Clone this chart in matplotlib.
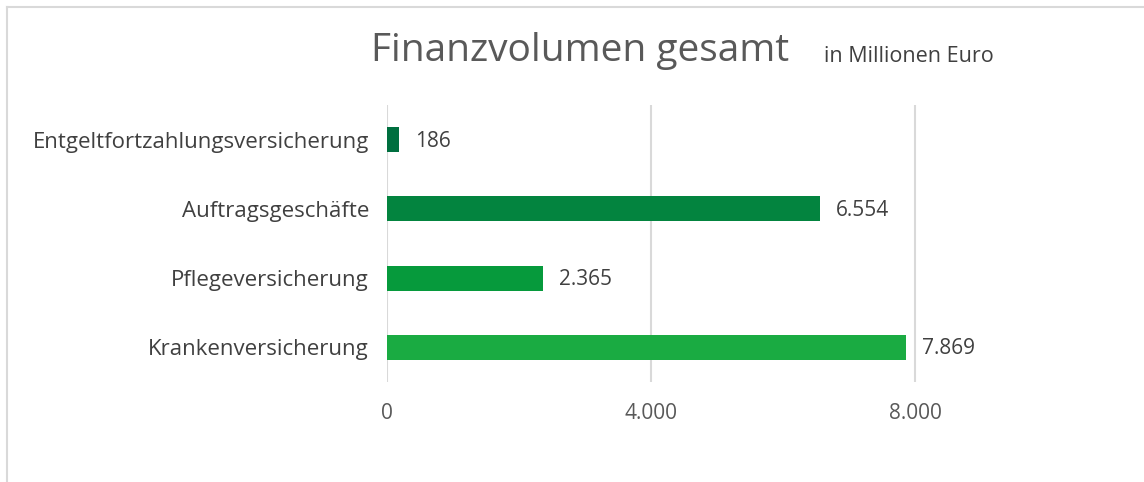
import matplotlib.pyplot as plt
from matplotlib.lines import Line2D

# data (top to bottom as shown)
categories = ["Entgeltfortzahlungsversicherung", "Auftragsgeschäfte",
              "Pflegeversicherung", "Krankenversicherung"]
values = [186, 6554, 2365, 7869]
value_labels = ["186", "6.554", "2.365", "7.869"]
colors = ["#006f3f", "#03843f", "#069a3c", "#1aab42"]
ticks = [0, 4000, 8000]
tick_labels = ["0", "4.000", "8.000"]

plt.rcParams['font.family'] = ['Open Sans', 'DejaVu Sans']
text_col = "#404040"

fig = plt.figure(figsize=(11.44, 4.82), dpi=100)
ax = fig.add_axes([0.3383, 0.2075, 0.5769, 0.5745])

y = list(range(len(categories)))
ax.barh(y, values, height=0.36, color=colors, zorder=3)
ax.set_ylim(3.5, -0.5)
ax.set_xlim(0, 10000)

for yi, v, lab in zip(y, values, value_labels):
    ax.text(v + 240, yi + 0.02, lab, va="center", ha="left", fontsize=15, color=text_col)

ax.set_yticks(y)
ax.set_yticklabels(categories, fontsize=16, color=text_col)
ax.set_xticks(ticks)
ax.set_xticklabels(tick_labels, fontsize=15, color="#595959")
ax.tick_params(length=0, pad=13, axis="y")
ax.tick_params(length=0, pad=15, axis="x")
ax.grid(axis="x", color="#d9d9d9", lw=1.5, zorder=0)
for s in ax.spines.values():
    s.set_visible(False)

fig.text(0.507, 0.895, "Finanzvolumen gesamt", fontsize=28, color="#595959",
         ha="center", va="center")
fig.text(0.72, 0.883, "in Millionen Euro", fontsize=15.5, color="#404040",
         ha="left", va="center")

# outer frame (top and left edges)
fig.add_artist(Line2D([0.006, 0.006], [0, 0.986], color="#d9d9d9", lw=1.5,
                      transform=fig.transFigure))
fig.add_artist(Line2D([0.006, 1], [0.986, 0.986], color="#d9d9d9", lw=1.5,
                      transform=fig.transFigure))

fig.savefig("out.png", dpi=100)
